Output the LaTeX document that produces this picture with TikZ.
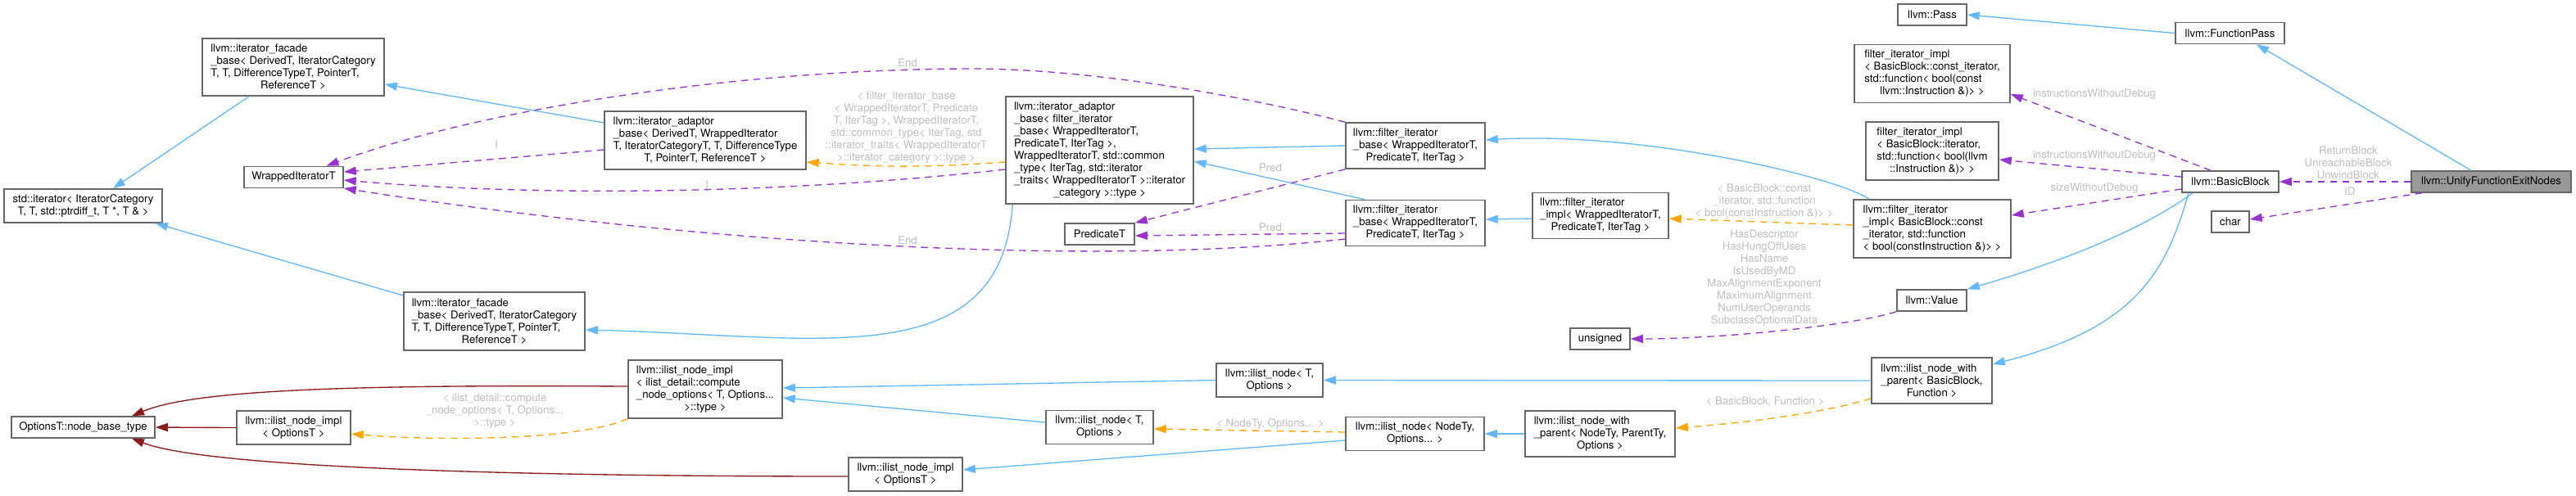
\documentclass[tikz,border=0pt]{standalone}
\usepackage{fontspec}
\setmainfont{TeX Gyre Heros}
\usetikzlibrary{arrows.meta}

\definecolor{inhblue}{HTML}{63B8FF}
\definecolor{usepurple}{HTML}{9A32CD}
\definecolor{tplorange}{HTML}{FFA500}
\definecolor{privred}{HTML}{8B1A1A}
\definecolor{boxgrey}{HTML}{666666}
\definecolor{rootgrey}{HTML}{999999}
\definecolor{lblgrey}{HTML}{BEBEBE}

\newcommand{\dxfont}{\fontsize{3.75pt}{4.27pt}\selectfont}

\tikzset{
  cls/.style={draw=boxgrey, line width=0.45pt, fill=white, inner sep=0pt, align=left, font=\dxfont},
  rootcls/.style={cls, fill=rootgrey},
  sz/.style 2 args={minimum width=#1cm, minimum height=#2cm},
  lbl/.style={text=lblgrey, inner sep=0pt, align=center, font=\dxfont},
  inherit/.style={->, draw=inhblue, line width=0.38pt},
  privinh/.style={->, draw=privred, line width=0.38pt},
  usage/.style={->, draw=usepurple, line width=0.38pt, dash pattern=on 0.085cm off 0.065cm},
  tmpl/.style={->, draw=tplorange, line width=0.38pt, dash pattern=on 0.085cm off 0.065cm},
}

\begin{document}
\begin{tikzpicture}[>={Triangle[length=0.15cm,width=0.1cm]}]

  \useasboundingbox (0,0) rectangle (31.45,-6.05);

  % Iterator classes on the left.
  \node[cls, sz={2.22}{0.70}] (ifbA) at (3.58,-0.82) {llvm::iterator\_facade\\\_base< DerivedT, IteratorCategory\\T, T, DifferenceTypeT, PointerT,\\\hfil ReferenceT >};
  \node[cls, sz={1.21}{0.26}] (wit) at (3.585,-2.165) {WrappedIteratorT};
  \node[cls, sz={1.93}{0.41}] (stdit) at (1.015,-2.515) {std::iterator< IteratorCategory\\\hfil T, T, std::ptrdiff\_t, T *, T \& >};
  \node[cls, sz={2.46}{0.71}] (iabA) at (8.61,-1.715) {llvm::iterator\_adaptor\\\_base< DerivedT, WrappedIterator\\T, IteratorCategoryT, T, DifferenceType\\\hfil T, PointerT, ReferenceT >};
  \node[cls, sz={2.29}{1.31}] (iabB) at (13.425,-1.835) {llvm::iterator\_adaptor\\\_base< filter\_iterator\\\_base< WrappedIteratorT,\\PredicateT, IterTag >,\\WrappedIteratorT, std::common\\\_type< IterTag, std::iterator\\\_traits< WrappedIteratorT >::iterator\\\hfil \_category >::type >};
  \node[cls, sz={0.85}{0.26}] (pred) at (13.425,-2.86) {PredicateT};
  \node[cls, sz={2.21}{0.71}] (ifbB) at (6.035,-3.925) {llvm::iterator\_facade\\\_base< DerivedT, IteratorCategory\\T, T, DifferenceTypeT, PointerT,\\\hfil ReferenceT >};

  % Filter iterators.
  \node[cls, sz={1.70}{0.56}] (fibA) at (17.28,-1.78) {llvm::filter\_iterator\\\_base< WrappedIteratorT,\\\hfil PredicateT, IterTag >};
  \node[cls, sz={1.70}{0.56}] (fibB) at (17.28,-2.725) {llvm::filter\_iterator\\\_base< WrappedIteratorT,\\\hfil PredicateT, IterTag >};
  \node[cls, sz={1.66}{0.56}] (fii) at (19.54,-2.635) {llvm::filter\_iterator\\\_impl< WrappedIteratorT,\\\hfil PredicateT, IterTag >};
  \node[cls, sz={1.90}{0.71}] (fiiA) at (23.59,-0.90) {filter\_iterator\_impl\\< BasicBlock::const\_iterator,\\std::function< bool(const\\\hfil llvm::Instruction \&)> >};
  \node[cls, sz={1.62}{0.71}] (fiiB) at (23.59,-1.845) {filter\_iterator\_impl\\< BasicBlock::iterator,\\std::function< bool(llvm\\\hfil ::Instruction \&)> >};
  \node[cls, sz={1.92}{0.71}] (fiiC) at (23.59,-2.795) {llvm::filter\_iterator\\\_impl< BasicBlock::const\\\_iterator, std::function\\\hfil < bool(constInstruction \&)> >};

  % Passes and the basic block.
  \node[cls, sz={0.84}{0.26}] (pass) at (23.59,-0.18) {llvm::Pass};
  \node[cls, sz={1.33}{0.26}] (fpass) at (27.225,-0.405) {llvm::FunctionPass};
  \node[cls, sz={1.18}{0.26}] (bb) at (27.23,-2.22) {llvm::BasicBlock};
  \node[rootcls, sz={1.95}{0.26}] (unify) at (30.415,-2.22) {llvm::UnifyFunctionExitNodes};
  \node[cls, sz={0.46}{0.26}] (chr) at (27.23,-2.71) {char};
  \node[cls, sz={0.85}{0.26}] (value) at (23.585,-3.67) {llvm::Value};
  \node[cls, sz={0.73}{0.26}] (unsgn) at (19.535,-4.14) {unsigned};

  % Intrusive list nodes.
  \node[cls, sz={1.47}{0.56}] (ilnwpBB) at (23.585,-4.65) {llvm::ilist\_node\_with\\\_parent< BasicBlock,\\\hfil Function >};
  \node[cls, sz={1.30}{0.41}] (ilnA) at (15.50,-4.645) {llvm::ilist\_node< T,\\\hfil Options >};
  \node[cls, sz={1.69}{0.41}] (ilnNT) at (17.275,-5.30) {llvm::ilist\_node< NodeTy,\\\hfil Options... >};
  \node[cls, sz={1.83}{0.56}] (ilnwp) at (19.535,-5.30) {llvm::ilist\_node\_with\\\_parent< NodeTy, ParentTy,\\\hfil Options >};
  \node[cls, sz={1.31}{0.41}] (ilnB) at (13.425,-5.22) {llvm::ilist\_node< T,\\\hfil Options >};
  \node[cls, sz={1.88}{0.71}] (ilniC) at (8.61,-4.755) {llvm::ilist\_node\_impl\\< ilist\_detail::compute\\\_node\_options< T, Options...\\\hfil >::type >};
  \node[cls, sz={1.39}{0.41}] (ilniB) at (11.055,-5.795) {llvm::ilist\_node\_impl\\\hfil < OptionsT >};
  \node[cls, sz={1.39}{0.41}] (ilniA) at (3.585,-5.225) {llvm::ilist\_node\_impl\\\hfil < OptionsT >};
  \node[cls, sz={1.75}{0.26}] (nbt) at (1.015,-5.22) {OptionsT::node\_base\_type};

  % Edge labels.
  \node[lbl] (lEndA) at (11.08,-0.77) {End};
  \node[lbl] (lIA) at (6.06,-1.77) {I};
  \node[lbl] (lIB) at (8.63,-2.26) {I};
  \node[lbl] (lTpl) at (11.065,-1.552) {< filter\_iterator\_base\\< WrappedIteratorT, Predicate\\T, IterTag >, WrappedIteratorT,\\std::common\_type< IterTag, std\\::iterator\_traits< WrappedIteratorT\\>::iterator\_category >::type >};
  \node[lbl] (lEndB) at (11.08,-2.94) {End};
  \node[lbl] (lPredA) at (15.51,-2.05) {Pred};
  \node[lbl] (lPredB) at (15.51,-2.78) {Pred};
  \node[lbl] (lCmp) at (6.04,-5.017) {< ilist\_detail::compute\\\_node\_options< T, Options...\\>::type >};
  \node[lbl] (lBBc) at (21.54,-2.457) {< BasicBlock::const\\\_iterator, std::function\\< bool(constInstruction \&)> >};
  \node[lbl] (lHas) at (21.54,-3.395) {HasDescriptor\\HasHungOffUses\\HasName\\IsUsedByMD\\MaxAlignmentExponent\\MaximumAlignment\\NumUserOperands\\SubclassOptionalData};
  \node[lbl] (lBBF) at (21.55,-4.91) {< BasicBlock, Function >};
  \node[lbl] (lNT) at (15.51,-5.18) {< NodeTy, Options... >};
  \node[lbl] (lIwdA) at (25.57,-1.15) {instructionsWithoutDebug};
  \node[lbl] (lIwdB) at (25.57,-1.90) {instructionsWithoutDebug};
  \node[lbl] (lSwd) at (25.57,-2.30) {sizeWithoutDebug};
  \node[lbl] (lRet) at (28.67,-1.99) {ReturnBlock\\UnreachableBlock\\UnwindBlock};
  \node[lbl] (lID) at (28.69,-2.34) {ID};

  % Public inheritance.
  \draw[inherit] (fpass.west) -- (pass.east);
  \draw[inherit] ([xshift=-0.245cm]unify.north) -- ([xshift=0.325cm]fpass.south);
  \draw[inherit] ([xshift=-0.46cm]bb.south) .. controls (26.10,-2.85) and (25.00,-3.25) .. (value.north east);
  \draw[inherit] ([xshift=-0.51cm]bb.south) .. controls (26.45,-3.30) and (26.10,-4.00) .. ([yshift=0.20cm]ilnwpBB.east);
  \draw[inherit] ([xshift=-0.77cm]fiiC.north) .. controls (22.40,-2.15) and (20.00,-1.60) .. ([yshift=0.07cm]fibA.east);
  \draw[inherit] ([yshift=-0.035cm]fii.west) -- ([yshift=0.045cm]fibB.east);
  \draw[inherit] (fibA.west) -- ([yshift=0.015cm]iabB.east);
  \draw[inherit] ([xshift=0.24cm]fibB.north west) -- ([yshift=-0.135cm]iabB.east);
  \draw[inherit] ([yshift=0.215cm]iabA.west) -- ([yshift=-0.21cm]ifbA.east);
  \draw[inherit] ([xshift=-0.54cm]ifbA.south) -- ([xshift=0.365cm]stdit.north);
  \draw[inherit] ([xshift=0.09cm]iabB.south west) .. controls (12.22,-4.60) and (10.00,-4.10) .. ([yshift=-0.105cm]ifbB.east);
  \draw[inherit] ([yshift=0.315cm]ifbB.west) -- ([xshift=-0.09cm]stdit.south east);
  \draw[inherit] (ilnwpBB.west) -- (ilnA.east);
  \draw[inherit] (ilnwp.west) -- (ilnNT.east);
  \draw[inherit] ([yshift=-0.08cm]ilnNT.west) -- ([yshift=0.055cm]ilniB.east);
  \draw[inherit] (ilnA.west) -- ([yshift=0.015cm]ilniC.east);
  \draw[inherit] ([yshift=0.06cm]ilnB.west) -- ([yshift=-0.105cm]ilniC.east);

  % Private inheritance.
  \draw[privinh] (ilniA.west) -- (nbt.east);
  \draw[privinh] ([yshift=0.035cm]ilniC.west) .. controls (4.50,-4.70) and (2.40,-4.75) .. ([xshift=0.595cm]nbt.north);
  \draw[privinh] ([yshift=-0.025cm]ilniB.west) .. controls (6.00,-5.82) and (2.50,-5.70) .. ([xshift=0.595cm]nbt.south);

  % Members.
  \draw[usage] (unify.west) -- (bb.east);
  \draw[usage] ([xshift=-0.845cm]unify.south) -- ([yshift=0.03cm]chr.east);
  \draw[usage] ([xshift=-0.24cm]bb.north) -- ([yshift=-0.25cm]fiiA.east);
  \draw[usage] ([yshift=0.06cm]bb.west) -- ([yshift=-0.105cm]fiiB.east);
  \draw[usage] ([yshift=-0.09cm]bb.west) -- ([yshift=0.165cm]fiiC.east);
  \draw[usage] (value.south west) .. controls (22.60,-3.98) and (21.00,-4.14) .. (unsgn.east);
  \draw[usage] ([yshift=-0.115cm]iabA.west) -- ([yshift=0.065cm]wit.east);
  \draw[usage] ([yshift=-0.235cm]iabB.west) .. controls (9.50,-2.38) and (6.50,-2.40) .. ([yshift=-0.035cm]wit.east);
  \draw[usage] (fibA.north west) .. controls (15.20,-1.17) and (13.30,-0.84) .. (11.88,-0.84)
    .. controls (9.00,-0.84) and (5.80,-1.35) .. ([xshift=0.40cm]wit.north);
  \draw[usage] ([yshift=-0.195cm]fibB.west) .. controls (13.00,-3.30) and (8.00,-2.90) .. ([yshift=-0.135cm]wit.east);
  \draw[usage] (fibA.south west) -- (pred.north east);
  \draw[usage] ([yshift=-0.125cm]fibB.west) -- ([yshift=-0.02cm]pred.east);

  % Template instances.
  \draw[tmpl] ([yshift=0.045cm]fiiC.west) -- ([yshift=-0.035cm]fii.east);
  \draw[tmpl] ([yshift=-0.22cm]ilnwpBB.west) .. controls (22.30,-5.03) and (21.50,-5.15) .. ([yshift=0.07cm]ilnwp.east);
  \draw[tmpl] ([yshift=0.02cm]ilnNT.west) -- ([yshift=-0.02cm]ilnB.east);
  \draw[tmpl] (ilniC.south west) .. controls (7.00,-5.40) and (5.20,-5.38) .. ([yshift=-0.075cm]ilniA.east);
  \draw[tmpl] ([yshift=-0.145cm]iabB.west) to[bend left=4] ([yshift=-0.265cm]iabA.east);

\end{tikzpicture}
\end{document}
